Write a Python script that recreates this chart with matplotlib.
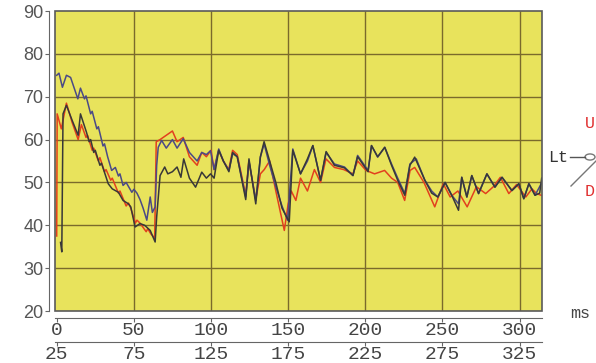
import matplotlib
matplotlib.use("Agg")
import matplotlib.pyplot as plt
from matplotlib.patches import Rectangle, Circle
from matplotlib.lines import Line2D

# traces: (ms, value)
red_pts = [(0, 37.5), (0.3, 66), (3, 62.5), (6.3, 68.5), (10, 64), (13.9, 60), (16, 63.5),
           (19, 60.5), (20, 61), (23, 57.5), (24, 58), (27, 55), (28, 55.8), (31, 52.5),
           (32, 53), (35, 50.5), (36, 51), (40, 47.5), (41, 48), (45, 44.5), (46.5, 45.2),
           (48, 44), (51, 40.5), (52, 41.2), (54, 40.5), (56, 39.5), (58, 38.5), (59, 39.2),
           (61, 38), (63.5, 37), (64.5, 59.5), (67, 60), (71, 61), (75, 62), (78, 59.5),
           (82, 60.5), (86, 56), (91, 54), (94, 57), (97, 56), (100, 57.5), (102, 53),
           (105, 57.5), (108, 55), (111.5, 53), (114, 57.5), (117, 56.5), (122.5, 47),
           (124.5, 55), (129, 46), (132, 52), (134.5, 53), (138, 55), (142, 48), (147.5, 38.8),
           (150, 45), (152, 48), (155, 45.8), (158, 51), (162.5, 48), (167, 53), (171, 50),
           (174.5, 55.5), (180, 53.5), (186, 53), (192, 52), (195, 55), (200.5, 52.8),
           (206, 52), (212.5, 52.8), (217, 51), (221, 50), (225.5, 45.8), (229, 52.8),
           (232, 53.5), (238, 50), (245, 44.3), (250.5, 49.7), (255, 46.6), (260, 48),
           (266, 44.3), (272, 49), (278, 47.4), (283, 49), (287.5, 51.2), (293, 47.4),
           (298, 49.5), (304, 46.6), (308, 48.5), (311, 47.4), (314, 47)]

blue_pts = [(0, 75), (1.5, 75.5), (3.7, 72.2), (6.3, 75), (9, 74.5), (13.7, 69.5), (15.4, 72),
            (18, 69.5), (19, 70.2), (22, 66), (23, 66.6), (26, 62.5), (27, 63), (30, 58.5),
            (31, 59), (33, 56), (35.6, 52.8), (38, 53.5), (40, 51.5), (41, 52), (43, 49.3),
            (45, 50), (48.7, 47.7), (50, 48.4), (52, 47.5), (54, 46), (56, 44), (58.4, 41.2),
            (60.6, 46.6), (62, 43), (63.8, 44.3), (64.8, 54), (65.8, 58.2), (68, 59.8),
            (71, 58), (75, 60), (78, 58), (82, 60.2), (86, 57), (91, 55), (94, 57), (97, 56.5),
            (99.7, 57.4), (102, 53), (105, 57.8), (108, 55), (111.6, 52.8), (114, 56.7),
            (117, 56), (122.5, 46.6), (124.6, 55), (129, 45.8), (132, 55.9), (134.4, 59),
            (138, 54), (142, 49), (146, 44.5), (149.6, 41.2), (153, 57.8), (158, 52),
            (162.5, 55), (166, 58.6), (171, 50.5), (174.6, 57), (180, 54.3), (186.5, 53.6),
            (192, 51.6), (195, 56.3), (201.8, 52.8), (204, 58.6), (208, 55.9), (212.6, 58.2),
            (217, 54.3), (221, 51), (225.6, 47.4), (228.9, 54.3), (233, 55.5), (238.6, 50.5),
            (243, 48), (247, 46.6), (251.7, 50), (256, 47), (260.4, 45), (262.5, 51.2),
            (265.8, 46.6), (269, 51.6), (273.4, 47.4), (278.8, 52), (284, 48.9), (288.6, 51.2),
            (295, 48.1), (299.5, 49.7), (302.7, 46.2), (306, 49.7), (310, 47), (314, 49.7)]

dark_pts = [(2.5, 36), (3.3, 33.8), (4.1, 66), (6.3, 68), (10, 64.5), (13.9, 61), (15.4, 66),
            (19.3, 61.7), (21, 59.5), (22, 60), (24, 57), (25, 57.5), (28, 54), (29, 54.5),
            (33.4, 49.7), (36, 48.5), (40, 47.7), (43, 45.8), (46.5, 45), (48, 44.3),
            (50.8, 39.6), (54, 40.4), (57, 40), (60.6, 38.8), (63.8, 36.1), (64.8, 42),
            (67, 51.6), (70, 53.6), (72, 52), (75, 52.5), (78, 53.6), (80.5, 51.2), (82.3, 55.5),
            (86, 51), (90, 48.9), (94, 52.4), (97, 51), (99.7, 52), (102, 51), (105, 57.5),
            (108, 55), (111.6, 52.5), (114, 57), (117, 56), (122.5, 46), (124.6, 55.5),
            (129, 45), (132, 56), (134.4, 59.5), (138, 55), (142, 50), (146, 44), (150.7, 40.8),
            (153, 57.5), (158, 52), (162.5, 55.5), (166, 58.6), (171, 50.5), (174.6, 57.2),
            (180, 54), (186.5, 53.4), (192, 51.6), (195, 56), (201.8, 52.5), (204, 58.6),
            (208, 56), (212.6, 58.2), (217, 54), (221, 50.5), (225.6, 47), (228.9, 54),
            (232, 55.9), (238.6, 50.5), (243, 47.5), (247, 46.6), (251.7, 50), (256, 47),
            (260.4, 43.5), (262.5, 51.2), (265.8, 46.6), (269, 51.6), (273.4, 47.4),
            (278.8, 52), (284, 48.9), (288.6, 51.2), (295, 48.1), (299.5, 49.7), (302.7, 46.2),
            (306, 49.7), (310, 47), (313, 47.5), (314.3, 51)]

x_ticks = [0, 50, 100, 150, 200, 250, 300]
x2_ticks = [25, 75, 125, 175, 225, 275, 325]
y_ticks = [20, 30, 40, 50, 60, 70, 80, 90]
grid_x = [50, 100, 150, 200, 250, 300]
grid_y = [30, 40, 50, 60, 70, 80]

W, H = 596, 363
fig = plt.figure(figsize=(W / 100, H / 100), dpi=100)
fig.patch.set_facecolor("white")


def frect(l, t, r, b):
    return [l / W, 1 - b / H, (r - l) / W, (b - t) / H]


ax = fig.add_axes(frect(55, 11, 542, 311))
ax.set_facecolor("#e8e35c")
ax.set_xlim(-1.1, 314.5)
ax.set_ylim(20, 90)

ax.vlines(grid_x, 20, 90, color="#7a6a2c", lw=1.0, zorder=1)
ax.hlines(grid_y, -1.1, 314.5, color="#7a6a2c", lw=1.0, zorder=1)

for pts, col in [(red_pts, "#e2401e"), (blue_pts, "#4b4a86"), (dark_pts, "#383838")]:
    xs, ys = zip(*pts)
    ax.plot(xs, ys, color=col, lw=1.1, zorder=3)

ax.add_patch(Rectangle((0, 0), 1, 1, transform=ax.transAxes, fill=False,
                       ec="#5a5a5a", lw=1.2, zorder=5, clip_on=False))

for s in ["top", "right"]:
    ax.spines[s].set_visible(False)
ax.spines["left"].set_position(("outward", 4.3))
ax.spines["bottom"].set_position(("outward", 5))
ax.spines["left"].set_color("#666666")
ax.spines["bottom"].set_color("#666666")

ax.set_yticks(y_ticks)
ax.set_xticks(x_ticks)
ax.tick_params(axis="y", direction="out", length=3, color="#666666", pad=1,
               labelsize=13, labelcolor="#555555")
ax.tick_params(axis="x", direction="out", length=3, color="#666666", pad=0,
               labelsize=14, labelcolor="#444444")
for lab in ax.get_yticklabels():
    lab.set_family("Liberation Sans")
for lab in ax.get_xticklabels():
    lab.set_family("Liberation Mono")

sec = ax.secondary_xaxis(-0.102, functions=(lambda x: x + 25, lambda x: x - 25))
sec.set_xticks(x2_ticks)
sec.spines["bottom"].set_color("#666666")
sec.tick_params(axis="x", direction="out", length=3, color="#666666", pad=0,
                labelsize=14, labelcolor="#444444")
for lab in sec.get_xticklabels():
    lab.set_family("Liberation Mono")

fig.text(570 / W, 1 - 313 / H, "ms", fontsize=12, family="Liberation Mono",
         color="#444444", va="center", ha="left")

# the little probe symbol on the right
fig.text(548 / W, 1 - 157 / H, "Lt", fontsize=12, family="Liberation Mono",
         color="#333333", va="center", ha="left")
fig.text(595 / W, 1 - 123 / H, "U", fontsize=12, family="Liberation Mono",
         color="#e03030", va="center", ha="right")
fig.text(595 / W, 1 - 192 / H, "D", fontsize=12, family="Liberation Mono",
         color="#e03030", va="center", ha="right")
fig.add_artist(Line2D([570 / W, 585 / W], [1 - 157 / H, 1 - 157 / H],
                      color="#555555", lw=1))
fig.add_artist(Line2D([571 / W, 597 / W], [1 - 186 / H, 1 - 160 / H],
                      color="#777777", lw=1))
fig.add_artist(Circle((590 / W, 1 - 157 / H), 5 / W, transform=fig.transFigure,
                      fill=False, ec="#777777", lw=1))

fig.savefig("out.png", dpi=100)
